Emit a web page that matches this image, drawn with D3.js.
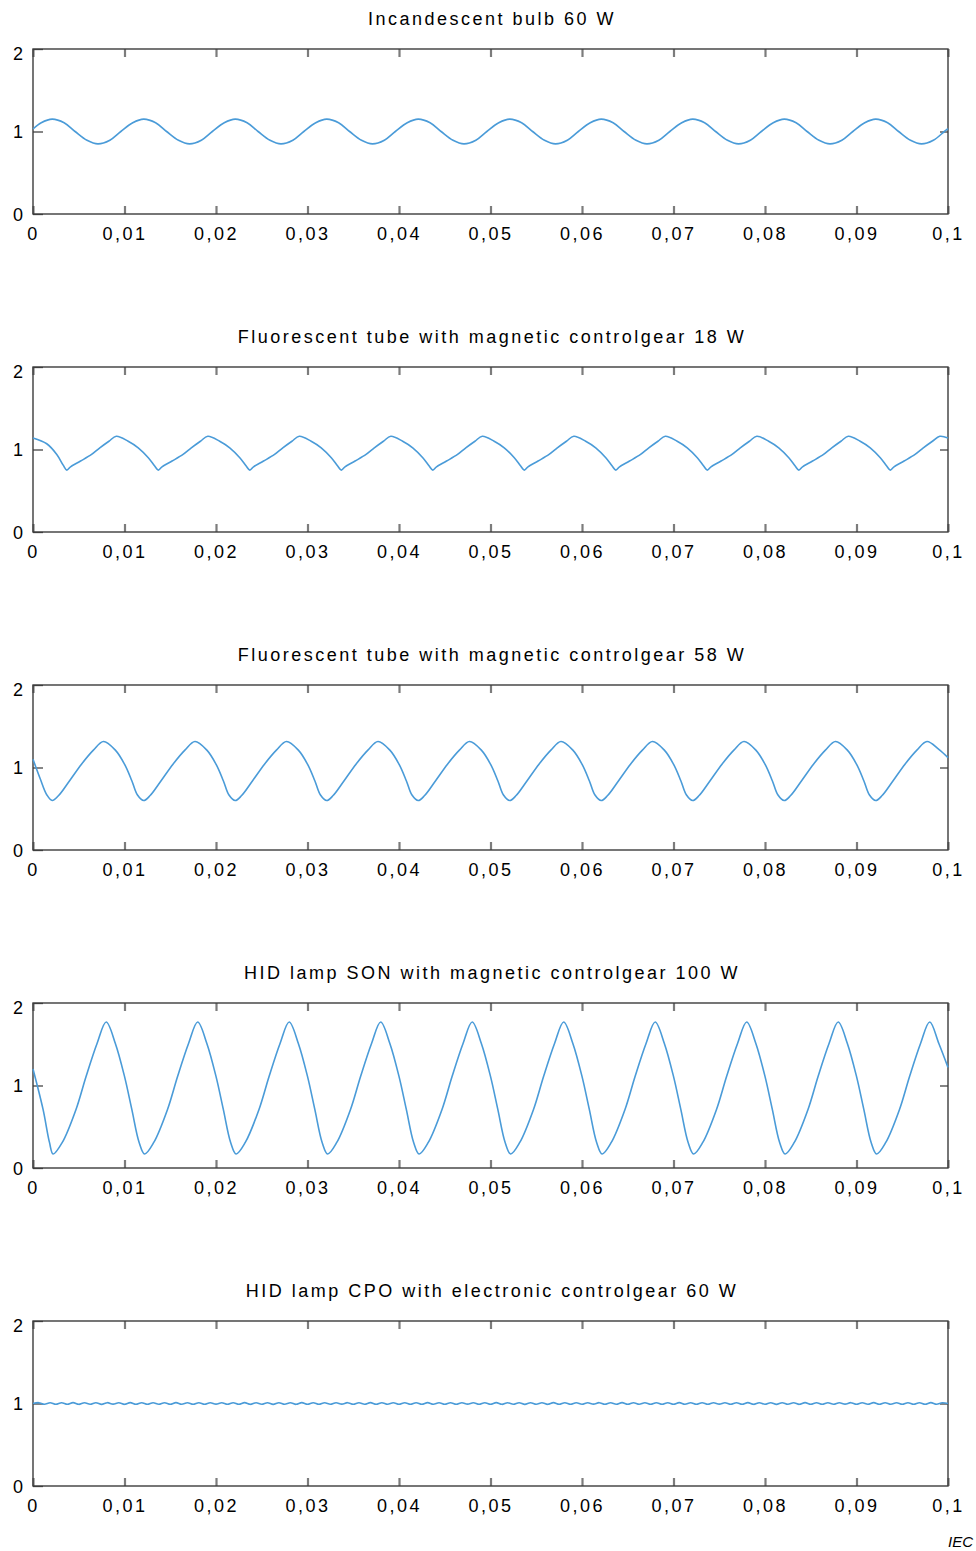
<!DOCTYPE html>
<html>
<head>
<meta charset="utf-8">
<script src="https://cdn.jsdelivr.net/npm/d3@7"></script>
<style>
  body { margin: 0; background: #fff; }
  svg { display: block; font-family: "Liberation Sans", Arial, Helvetica, sans-serif; }
  .tick text { fill: #000; }
</style>
</head>
<body>
<div id="chart"></div>
<script>
const titles = [
  'Incandescent bulb 60 W',
  'Fluorescent tube with magnetic controlgear 18 W',
  'Fluorescent tube with magnetic controlgear 58 W',
  'HID lamp SON with magnetic controlgear 100 W',
  'HID lamp CPO with electronic controlgear 60 W',
];

const xTicks = [0, 0.01, 0.02, 0.03, 0.04, 0.05, 0.06, 0.07, 0.08, 0.09, 0.1];
const yTicks = [0, 1, 2];

// [time s, relative light output]
const bulb = [
  [0, 1.03],
  [0.0009, 1.106], [0.0021, 1.15], [0.0034, 1.106], [0.0046, 1.0], [0.0059, 0.894], [0.0071, 0.85], [0.0084, 0.894], [0.0096, 1.0],
  [0.0109, 1.106], [0.0121, 1.15], [0.0134, 1.106], [0.0146, 1.0], [0.0159, 0.894], [0.0171, 0.85], [0.0184, 0.894], [0.0196, 1.0],
  [0.0209, 1.106], [0.0221, 1.15], [0.0234, 1.106], [0.0246, 1.0], [0.0259, 0.894], [0.0271, 0.85], [0.0284, 0.894], [0.0296, 1.0],
  [0.0309, 1.106], [0.0321, 1.15], [0.0334, 1.106], [0.0346, 1.0], [0.0359, 0.894], [0.0371, 0.85], [0.0384, 0.894], [0.0396, 1.0],
  [0.0409, 1.106], [0.0421, 1.15], [0.0434, 1.106], [0.0446, 1.0], [0.0459, 0.894], [0.0471, 0.85], [0.0484, 0.894], [0.0496, 1.0],
  [0.0509, 1.106], [0.0521, 1.15], [0.0534, 1.106], [0.0546, 1.0], [0.0559, 0.894], [0.0571, 0.85], [0.0584, 0.894], [0.0596, 1.0],
  [0.0609, 1.106], [0.0621, 1.15], [0.0634, 1.106], [0.0646, 1.0], [0.0659, 0.894], [0.0671, 0.85], [0.0684, 0.894], [0.0696, 1.0],
  [0.0709, 1.106], [0.0721, 1.15], [0.0734, 1.106], [0.0746, 1.0], [0.0759, 0.894], [0.0771, 0.85], [0.0784, 0.894], [0.0796, 1.0],
  [0.0809, 1.106], [0.0821, 1.15], [0.0834, 1.106], [0.0846, 1.0], [0.0859, 0.894], [0.0871, 0.85], [0.0884, 0.894], [0.0896, 1.0],
  [0.0909, 1.106], [0.0921, 1.15], [0.0934, 1.106], [0.0946, 1.0], [0.0959, 0.894], [0.0971, 0.85], [0.0984, 0.894], [0.0996, 1.0],
  [0.1, 1.035],
];

const fluo18 = [
  [0, 1.14], [0.0015, 1.07], [0.0026, 0.94], [0.0033, 0.81], [0.0037, 0.75],
  [0.0041, 0.79], [0.0052, 0.86], [0.0064, 0.94], [0.0073, 1.02], [0.0083, 1.10], [0.0091, 1.16], [0.0104, 1.10], [0.0115, 1.02], [0.0126, 0.90], [0.0133, 0.80], [0.0137, 0.75],
  [0.0141, 0.79], [0.0152, 0.86], [0.0164, 0.94], [0.0173, 1.02], [0.0183, 1.10], [0.0191, 1.16], [0.0204, 1.10], [0.0215, 1.02], [0.0226, 0.90], [0.0233, 0.80], [0.0237, 0.75],
  [0.0241, 0.79], [0.0252, 0.86], [0.0264, 0.94], [0.0273, 1.02], [0.0283, 1.10], [0.0291, 1.16], [0.0304, 1.10], [0.0315, 1.02], [0.0326, 0.90], [0.0333, 0.80], [0.0337, 0.75],
  [0.0341, 0.79], [0.0352, 0.86], [0.0364, 0.94], [0.0373, 1.02], [0.0383, 1.10], [0.0391, 1.16], [0.0404, 1.10], [0.0415, 1.02], [0.0426, 0.90], [0.0433, 0.80], [0.0437, 0.75],
  [0.0441, 0.79], [0.0452, 0.86], [0.0464, 0.94], [0.0473, 1.02], [0.0483, 1.10], [0.0491, 1.16], [0.0504, 1.10], [0.0515, 1.02], [0.0526, 0.90], [0.0533, 0.80], [0.0537, 0.75],
  [0.0541, 0.79], [0.0552, 0.86], [0.0564, 0.94], [0.0573, 1.02], [0.0583, 1.10], [0.0591, 1.16], [0.0604, 1.10], [0.0615, 1.02], [0.0626, 0.90], [0.0633, 0.80], [0.0637, 0.75],
  [0.0641, 0.79], [0.0652, 0.86], [0.0664, 0.94], [0.0673, 1.02], [0.0683, 1.10], [0.0691, 1.16], [0.0704, 1.10], [0.0715, 1.02], [0.0726, 0.90], [0.0733, 0.80], [0.0737, 0.75],
  [0.0741, 0.79], [0.0752, 0.86], [0.0764, 0.94], [0.0773, 1.02], [0.0783, 1.10], [0.0791, 1.16], [0.0804, 1.10], [0.0815, 1.02], [0.0826, 0.90], [0.0833, 0.80], [0.0837, 0.75],
  [0.0841, 0.79], [0.0852, 0.86], [0.0864, 0.94], [0.0873, 1.02], [0.0883, 1.10], [0.0891, 1.16], [0.0904, 1.10], [0.0915, 1.02], [0.0926, 0.90], [0.0933, 0.80], [0.0937, 0.75],
  [0.0941, 0.79], [0.0952, 0.86], [0.0964, 0.94], [0.0973, 1.02], [0.0983, 1.10], [0.0991, 1.16], [0.1, 1.14],
];

const fluo58 = [
  [0, 1.10], [0.0008, 0.86], [0.0015, 0.67], [0.0021, 0.60],
  [0.0028, 0.66], [0.0040, 0.84], [0.0053, 1.04], [0.0066, 1.21], [0.0077, 1.315], [0.0090, 1.21], [0.0100, 1.04], [0.0108, 0.84], [0.0114, 0.67], [0.0121, 0.60],
  [0.0128, 0.66], [0.0140, 0.84], [0.0153, 1.04], [0.0166, 1.21], [0.0177, 1.315], [0.0190, 1.21], [0.0200, 1.04], [0.0208, 0.84], [0.0214, 0.67], [0.0221, 0.60],
  [0.0228, 0.66], [0.0240, 0.84], [0.0253, 1.04], [0.0266, 1.21], [0.0277, 1.315], [0.0290, 1.21], [0.0300, 1.04], [0.0308, 0.84], [0.0314, 0.67], [0.0321, 0.60],
  [0.0328, 0.66], [0.0340, 0.84], [0.0353, 1.04], [0.0366, 1.21], [0.0377, 1.315], [0.0390, 1.21], [0.0400, 1.04], [0.0408, 0.84], [0.0414, 0.67], [0.0421, 0.60],
  [0.0428, 0.66], [0.0440, 0.84], [0.0453, 1.04], [0.0466, 1.21], [0.0477, 1.315], [0.0490, 1.21], [0.0500, 1.04], [0.0508, 0.84], [0.0514, 0.67], [0.0521, 0.60],
  [0.0528, 0.66], [0.0540, 0.84], [0.0553, 1.04], [0.0566, 1.21], [0.0577, 1.315], [0.0590, 1.21], [0.0600, 1.04], [0.0608, 0.84], [0.0614, 0.67], [0.0621, 0.60],
  [0.0628, 0.66], [0.0640, 0.84], [0.0653, 1.04], [0.0666, 1.21], [0.0677, 1.315], [0.0690, 1.21], [0.0700, 1.04], [0.0708, 0.84], [0.0714, 0.67], [0.0721, 0.60],
  [0.0728, 0.66], [0.0740, 0.84], [0.0753, 1.04], [0.0766, 1.21], [0.0777, 1.315], [0.0790, 1.21], [0.0800, 1.04], [0.0808, 0.84], [0.0814, 0.67], [0.0821, 0.60],
  [0.0828, 0.66], [0.0840, 0.84], [0.0853, 1.04], [0.0866, 1.21], [0.0877, 1.315], [0.0890, 1.21], [0.0900, 1.04], [0.0908, 0.84], [0.0914, 0.67], [0.0921, 0.60],
  [0.0928, 0.66], [0.0940, 0.84], [0.0953, 1.04], [0.0966, 1.21], [0.0977, 1.315], [0.0990, 1.22], [0.1, 1.12],
];

const son100 = [
  [0, 1.20], [0.0011, 0.71], [0.0018, 0.31], [0.0022, 0.17],
  [0.0032, 0.31], [0.0047, 0.71], [0.0058, 1.11], [0.0070, 1.51], [0.0080, 1.77], [0.0090, 1.51], [0.0100, 1.11], [0.0108, 0.71], [0.0116, 0.31], [0.0122, 0.17],
  [0.0132, 0.31], [0.0147, 0.71], [0.0158, 1.11], [0.0170, 1.51], [0.0180, 1.77], [0.0190, 1.51], [0.0200, 1.11], [0.0208, 0.71], [0.0216, 0.31], [0.0222, 0.17],
  [0.0232, 0.31], [0.0247, 0.71], [0.0258, 1.11], [0.0270, 1.51], [0.0280, 1.77], [0.0290, 1.51], [0.0300, 1.11], [0.0308, 0.71], [0.0316, 0.31], [0.0322, 0.17],
  [0.0332, 0.31], [0.0347, 0.71], [0.0358, 1.11], [0.0370, 1.51], [0.0380, 1.77], [0.0390, 1.51], [0.0400, 1.11], [0.0408, 0.71], [0.0416, 0.31], [0.0422, 0.17],
  [0.0432, 0.31], [0.0447, 0.71], [0.0458, 1.11], [0.0470, 1.51], [0.0480, 1.77], [0.0490, 1.51], [0.0500, 1.11], [0.0508, 0.71], [0.0516, 0.31], [0.0522, 0.17],
  [0.0532, 0.31], [0.0547, 0.71], [0.0558, 1.11], [0.0570, 1.51], [0.0580, 1.77], [0.0590, 1.51], [0.0600, 1.11], [0.0608, 0.71], [0.0616, 0.31], [0.0622, 0.17],
  [0.0632, 0.31], [0.0647, 0.71], [0.0658, 1.11], [0.0670, 1.51], [0.0680, 1.77], [0.0690, 1.51], [0.0700, 1.11], [0.0708, 0.71], [0.0716, 0.31], [0.0722, 0.17],
  [0.0732, 0.31], [0.0747, 0.71], [0.0758, 1.11], [0.0770, 1.51], [0.0780, 1.77], [0.0790, 1.51], [0.0800, 1.11], [0.0808, 0.71], [0.0816, 0.31], [0.0822, 0.17],
  [0.0832, 0.31], [0.0847, 0.71], [0.0858, 1.11], [0.0870, 1.51], [0.0880, 1.77], [0.0890, 1.51], [0.0900, 1.11], [0.0908, 0.71], [0.0916, 0.31], [0.0922, 0.17],
  [0.0932, 0.31], [0.0947, 0.71], [0.0958, 1.11], [0.0970, 1.51], [0.0980, 1.77], [0.0990, 1.51], [0.1, 1.22],
];

// sampled every 0.625 ms
const cpoStep = 0.000625;
const cpoLevel = [
  1.000, 1.010, 0.991, 1.009, 0.990, 1.010, 0.991, 1.011, 0.990, 1.009, 0.991, 1.010, 0.990, 1.010, 0.992, 1.009,
  0.990, 1.011, 0.991, 1.010, 0.990, 1.009, 0.991, 1.010, 0.990, 1.011, 0.991, 1.009, 0.990, 1.010, 0.991, 1.010,
  0.992, 1.009, 0.990, 1.010, 0.991, 1.011, 0.990, 1.009, 0.991, 1.010, 0.990, 1.010, 0.991, 1.009, 0.990, 1.011,
  0.991, 1.010, 0.990, 1.009, 0.991, 1.010, 0.992, 1.010, 0.990, 1.009, 0.991, 1.011, 0.990, 1.010, 0.991, 1.009,
  0.990, 1.010, 0.991, 1.010, 0.990, 1.011, 0.991, 1.009, 0.990, 1.010, 0.991, 1.010, 0.992, 1.009, 0.990, 1.010,
  0.991, 1.011, 0.990, 1.009, 0.991, 1.010, 0.990, 1.010, 0.991, 1.009, 0.990, 1.011, 0.991, 1.010, 0.990, 1.009,
  0.991, 1.010, 0.992, 1.010, 0.990, 1.009, 0.991, 1.011, 0.990, 1.010, 0.991, 1.009, 0.990, 1.010, 0.991, 1.010,
  0.990, 1.011, 0.991, 1.009, 0.990, 1.010, 0.991, 1.010, 0.992, 1.009, 0.990, 1.010, 0.991, 1.011, 0.990, 1.009,
  0.991, 1.010, 0.990, 1.010, 0.991, 1.009, 0.990, 1.011, 0.991, 1.010, 0.990, 1.009, 0.991, 1.010, 0.992, 1.010,
  0.990, 1.009, 0.991, 1.011, 0.990, 1.010, 0.991, 1.009, 0.990, 1.010, 0.991, 1.010, 0.990, 1.011, 0.991, 1.009,
  0.999,
];
const cpo60 = cpoLevel.map((v, i) => [i * cpoStep, v]);

const series = [bulb, fluo18, fluo58, son100, cpo60];

const width = 976;
const height = 1551;
const plotLeft = 33;
const plotRight = 948;
const firstTop = 49;
const panelStep = 318;
const panelHeight = 165;

const svg = d3
  .select('#chart')
  .append('svg')
  .attr('width', width)
  .attr('height', height)
  .attr('viewBox', `0 0 ${width} ${height}`);

const xScale = d3.scaleLinear().domain([0, 0.1]).range([plotLeft, plotRight]);
const fmt = (d) => String(d).replace('.', ',');

series.forEach((data, i) => {
  const top = firstTop + i * panelStep;
  const bottom = top + panelHeight;
  const yScale = d3.scaleLinear().domain([0, 2]).range([bottom, top]);
  const g = svg.append('g');

  g.append('text')
    .attr('x', (plotLeft + plotRight) / 2 + 1.5)
    .attr('y', top - 24)
    .attr('text-anchor', 'middle')
    .attr('font-size', 18)
    .attr('letter-spacing', 2.5)
    .attr('fill', '#000')
    .text(titles[i]);

  // bottom axis with labels, ticks pointing inward
  const bx = g
    .append('g')
    .attr('transform', `translate(0,${bottom})`)
    .call(
      d3.axisBottom(xScale).tickValues(xTicks).tickSizeInner(-8).tickSizeOuter(0)
        .tickPadding(13).tickFormat(fmt)
    );
  bx.selectAll('text').attr('font-size', 18).attr('letter-spacing', 2.5).attr('font-family', null);

  const tx = g
    .append('g')
    .attr('transform', `translate(0,${top})`)
    .call(d3.axisTop(xScale).tickValues(xTicks).tickSizeInner(-8).tickSizeOuter(0).tickFormat(''));

  [bx, tx].forEach((a) => {
    a.select('.domain').remove();
    a.selectAll('line').attr('stroke', '#7c7c7c').attr('stroke-width', 2.2);
  });

  const ly = g
    .append('g')
    .attr('transform', `translate(${plotLeft},0)`)
    .call(
      d3.axisLeft(yScale).tickValues(yTicks).tickSizeInner(-10).tickSizeOuter(0)
        .tickPadding(10).tickFormat((d) => String(d))
    );
  ly.selectAll('text')
    .attr('font-size', 18)
    .attr('font-family', null)
    .attr('dy', (d) => (d === 2 ? '0.6em' : '0.36em'));

  const ry = g
    .append('g')
    .attr('transform', `translate(${plotRight},0)`)
    .call(d3.axisRight(yScale).tickValues([1]).tickSizeInner(-8).tickSizeOuter(0).tickFormat(''));

  [ly, ry].forEach((a) => {
    a.select('.domain').remove();
    a.selectAll('line').attr('stroke', '#444').attr('stroke-width', 1.3);
  });

  g.append('rect')
    .attr('x', plotLeft)
    .attr('y', top)
    .attr('width', plotRight - plotLeft)
    .attr('height', panelHeight)
    .attr('fill', 'none')
    .attr('stroke', '#3c3c3c')
    .attr('stroke-width', 1.4);

  const line = d3
    .line()
    .x((d) => xScale(d[0]))
    .y((d) => yScale(d[1]))
    .curve(d3.curveCatmullRom.alpha(0.5));

  g.append('path')
    .datum(data)
    .attr('d', line)
    .attr('fill', 'none')
    .attr('stroke', '#4a9bd8')
    .attr('stroke-width', 1.6);
});

svg
  .append('text')
  .attr('x', 973)
  .attr('y', 1547)
  .attr('text-anchor', 'end')
  .attr('font-size', 15)
  .attr('font-style', 'italic')
  .attr('fill', '#000')
  .text('IEC');
</script>
</body>
</html>
